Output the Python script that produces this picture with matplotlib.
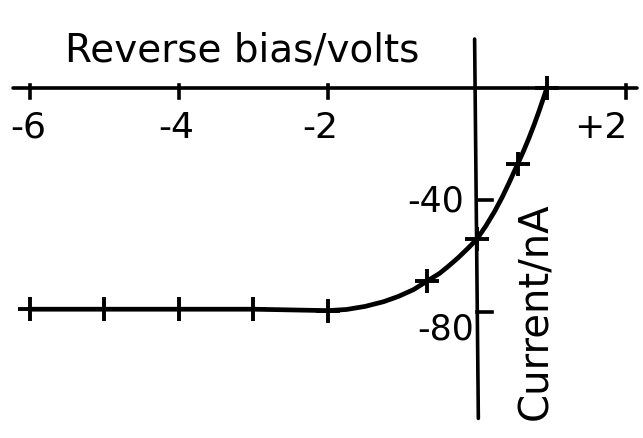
"""Reverse-bias current curve, drawn in the style of a hand sketch"""
import matplotlib.pyplot as plt
import numpy as np

# measured points (crosses on the curve)
bias_pts = [-6, -5, -4, -3, -2, -0.67, 0.0, 0.55, 0.94]
current_pts = [-79, -79, -79, -79, -79.5, -69, -54, -27, 0]

# points along the drawn curve
bias_curve = [-6, -5, -4, -3, -2, -1.75, -1.5, -1.25, -1.05, -0.85, -0.67,
              -0.5, -0.38, -0.25, -0.11, 0.0, 0.12, 0.24, 0.34, 0.43, 0.55,
              0.63, 0.70, 0.77, 0.83, 0.94]
current_curve = [-79, -79, -79, -79, -79.5, -79.1, -78, -76.3, -74.4, -72,
                 -69, -66.2, -63.6, -60.6, -57, -54, -49.3, -44, -39, -34,
                 -27, -22.3, -17.8, -13, -8.6, 0]

xtick_vals = [-6, -4, -2, 2]
xtick_text = ['-6', '-4', '-2', '+2']
ytick_vals = [-40, -80]
ytick_text = ['-40', '-80']

fig = plt.figure(figsize=(6.43, 4.39), dpi=100)
ax = fig.add_axes([0, 0, 1, 1])
ax.set_xlim(-6.40, 2.23)
ax.set_ylim(-125, 31.8)
ax.axis('off')

lw_axis = 2.6
# axes drawn by hand through the origin
ax.plot([-6.23, 2.15], [0, 0], color='black', lw=lw_axis, solid_capstyle='round')
ax.plot([-0.03, 0.02], [17.5, -118], color='black', lw=lw_axis, solid_capstyle='round')

for xv in xtick_vals:
    ax.plot([xv, xv], [1.0, -3.5], color='black', lw=lw_axis)
for yv in ytick_vals:
    ax.plot([0, 0.2], [yv, yv], color='black', lw=lw_axis)

# curve and data crosses
ax.plot(bias_curve, current_curve, color='black', lw=3.4,
        solid_capstyle='round', solid_joinstyle='round')
ax.plot(bias_pts, current_pts, linestyle='none', marker='+', color='black',
        markersize=17, markeredgewidth=2.8)

# labels
ax.text(-3.15, 13.8, 'Reverse bias/volts', fontsize=28, ha='center', va='center')
xlab_pos = [-6.02, -4.03, -2.1, 1.66]
for pos, txt in zip(xlab_pos, xtick_text):
    ax.text(pos, -13.8, txt, fontsize=26, ha='center', va='center')
ax.text(-0.17, -40, ytick_text[0], fontsize=25, ha='right', va='center')
ax.text(-0.04, -86, ytick_text[1], fontsize=25, ha='right', va='center')
ax.text(0.8, -79.5, 'Current/nA', fontsize=29, rotation=90, ha='center', va='center')

fig.savefig('out.png', dpi=100)
